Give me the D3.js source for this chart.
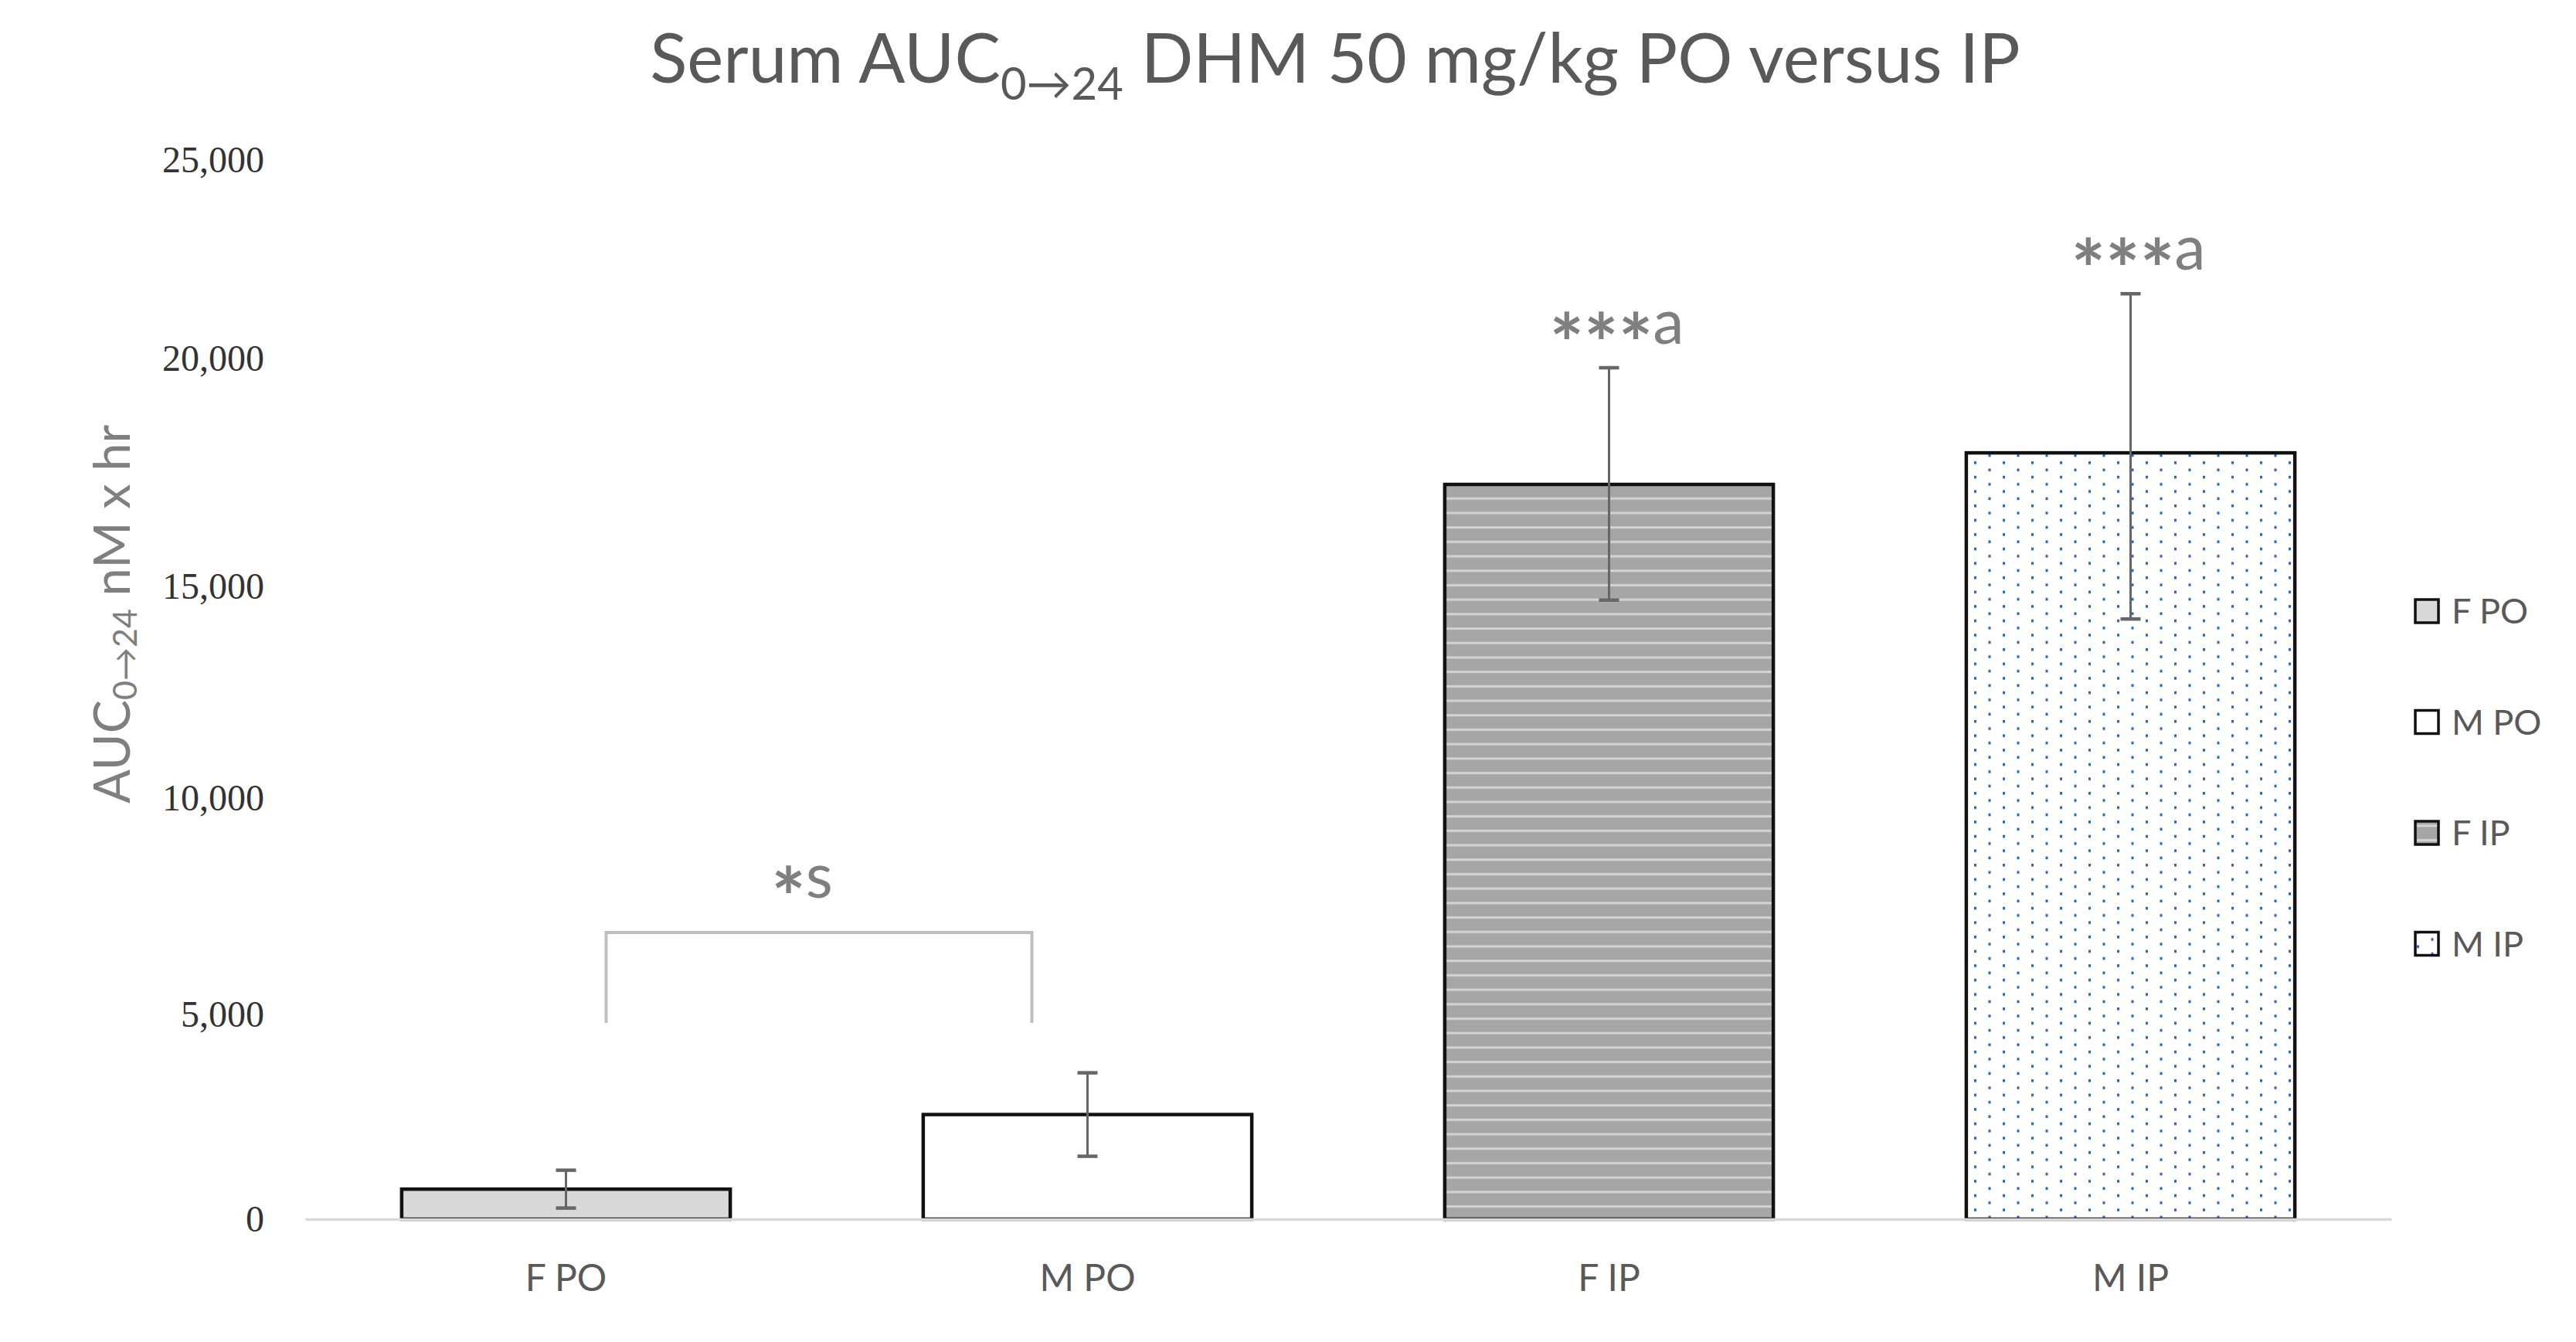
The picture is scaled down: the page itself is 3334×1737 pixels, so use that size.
<!DOCTYPE html>
<html>
<head>
<meta charset="utf-8">
<script src="https://cdn.jsdelivr.net/npm/d3@7"></script>
<style>
	body { margin: 0; background: #fff; }
	text { font-family: Lato, "Open Sans", sans-serif; }
</style>
</head>
<body>
<div id="chart"></div>
<script>
// values (nM x hr)
var groups = ["F PO", "M PO", "F IP", "M IP"];
var auc = [733, 2555, 17237, 17930];
var sem = [462, 1019, 2560, 3700];
var marks = ["", "", "***a", "***a"];
var yTicks = [0, 5000, 10000, 15000, 20000, 25000];
var pairs = [["F PO", "M PO", "*s"]];

var drawChart = function() {
	var width = 3334,
		height = 1737,
		fills = ["#d9d9d9", "#ffffff", "url(#stripes)", "url(#dots)"],
		grey = "#595959",
		i;

	var svg = d3.select("#chart")
		.append("svg")
		.attr("width", width)
		.attr("height", height)
		.style("background", "#fff");

	var defs = svg.append("defs");

	var stripes = defs.append("pattern")
		.attr("id", "stripes")
		.attr("patternUnits", "userSpaceOnUse")
		.attr("width", 20)
		.attr("height", 18.7);
	stripes.append("rect").attr("width", 20).attr("height", 18.7).attr("fill", "#a6a6a6");
	stripes.append("rect").attr("y", 8).attr("width", 20).attr("height", 3).attr("fill", "#d4d4d4");

	var dots = defs.append("pattern")
		.attr("id", "dots")
		.attr("patternUnits", "userSpaceOnUse")
		.attr("width", 37)
		.attr("height", 18.6);
	dots.append("rect").attr("width", 37).attr("height", 18.6).attr("fill", "#fff");
	dots.append("rect").attr("x", 2).attr("y", 2).attr("width", 3).attr("height", 3.5).attr("fill", "#1f63c9");
	dots.append("rect").attr("x", 20.5).attr("y", 11.3).attr("width", 3).attr("height", 3.5).attr("fill", "#1f63c9");

	var x = d3.scaleBand()
		.domain(groups)
		.range([395, 3095])
		.paddingInner(0.37)
		.paddingOuter(0.185);

	// the value axis in the source picture is slightly uneven, so map each tick
	var y = d3.scaleLinear()
		.domain(yTicks)
		.range([1578, 1313, 1033, 759, 464, 207]);

	var bw = x.bandwidth();
	var cx = function(g) { return x(g) + bw / 2; };

	var data = groups.map(function(g, k) {
		return { name: g, value: auc[k], err: sem[k], mark: marks[k], fill: fills[k] };
	});

	// title
	var title = svg.append("text")
		.attr("x", 1728)
		.attr("y", 107)
		.attr("text-anchor", "middle")
		.attr("fill", grey)
		.style("font-size", "89px");
	title.append("tspan").text("Serum AUC");
	title.append("tspan").attr("dy", 22).style("font-size", "58px").text("0\u219224");
	title.append("tspan").attr("dy", -22).text(" DHM 50 mg/kg PO versus IP");

	// y axis title
	var ytitle = svg.append("text")
		.attr("transform", "translate(168,795) rotate(-90)")
		.attr("text-anchor", "middle")
		.attr("fill", "#7f7f7f")
		.style("font-size", "65px");
	ytitle.append("tspan").text("AUC");
	ytitle.append("tspan").attr("dy", 9).style("font-size", "43px").text("0\u219224");
	ytitle.append("tspan").attr("dy", -9).text(" nM x hr");

	// y axis labels only
	var yAxis = svg.append("g")
		.attr("transform", "translate(342,0)")
		.call(d3.axisLeft(y)
			.tickValues(yTicks)
			.tickFormat(d3.format(","))
			.tickSize(0)
			.tickPadding(0));
	yAxis.select(".domain").remove();
	yAxis.selectAll("text")
		.attr("fill", "#333")
		.style("font-family", "'Liberation Serif', serif")
		.style("font-size", "48px");

	// bars
	svg.append("g")
		.selectAll("rect")
		.data(data)
		.join("rect")
		.attr("x", function(d) { return x(d.name); })
		.attr("y", function(d) { return y(d.value); })
		.attr("width", bw)
		.attr("height", function(d) { return y(0) - y(d.value); })
		.attr("fill", function(d) { return d.fill; })
		.attr("stroke", "#111")
		.attr("stroke-width", 4.5);

	// x axis
	var xAxis = svg.append("g")
		.attr("transform", "translate(0," + y(0) + ")")
		.call(d3.axisBottom(x)
			.tickSize(0)
			.tickSizeOuter(0)
			.tickPadding(59));
	xAxis.select(".domain")
		.attr("stroke", "#d9d9d9")
		.attr("stroke-width", 3.5);
	xAxis.selectAll("text")
		.attr("fill", grey)
		.style("font-family", "Lato, 'Open Sans', sans-serif")
		.style("font-size", "48px");

	// error bars
	var eb = svg.append("g")
		.attr("stroke", "#666")
		.selectAll("g")
		.data(data)
		.join("g");
	eb.append("line")
		.attr("x1", function(d) { return cx(d.name); })
		.attr("x2", function(d) { return cx(d.name); })
		.attr("y1", function(d) { return y(d.value + d.err); })
		.attr("y2", function(d) { return y(d.value - d.err); })
		.attr("stroke-width", 3);
	[1, -1].forEach(function(s) {
		eb.append("line")
			.attr("x1", function(d) { return cx(d.name) - 13; })
			.attr("x2", function(d) { return cx(d.name) + 13; })
			.attr("y1", function(d) { return y(d.value + s * d.err); })
			.attr("y2", function(d) { return y(d.value + s * d.err); })
			.attr("stroke-width", 4.5);
	});

	// significance labels: big lowered stars then a letter
	function markText(sel, str) {
		var stars = str.replace(/[^*]/g, ""),
			rest = str.replace(/\*/g, "");
		sel.append("tspan")
			.attr("dy", 38)
			.style("font-size", "105px")
			.style("font-weight", "bold")
			.text(stars);
		sel.append("tspan").attr("dy", -38).style("font-size", "81px").text(rest);
	}

	svg.append("g")
		.selectAll("text")
		.data(data.filter(function(d) { return d.mark; }))
		.join("text")
		.attr("x", function(d) { return cx(d.name) + 10; })
		.attr("y", function(d) { return y(d.value + d.err) - 31; })
		.attr("text-anchor", "middle")
		.attr("fill", "#7f7f7f")
		.each(function(d) { markText(d3.select(this), d.mark); });

	// bracket between PO groups
	for (i = 0; i < pairs.length; i++) {
		var xa = cx(pairs[i][0]) + 52,
			xb = cx(pairs[i][1]) - 72,
			top = y(6893),
			leg = y(4792);
		svg.append("path")
			.attr("d", "M" + xa + "," + leg + "V" + top + "H" + xb + "V" + leg)
			.attr("fill", "none")
			.attr("stroke", "#bfbfbf")
			.attr("stroke-width", 4);
		var bt = svg.append("text")
			.attr("x", (xa + xb) / 2 - 22)
			.attr("y", top - 45)
			.attr("text-anchor", "middle")
			.attr("fill", "#7f7f7f");
		markText(bt, pairs[i][2]);
	}

	// legend
	var lg = svg.append("g")
		.selectAll("g")
		.data(data)
		.join("g")
		.attr("transform", function(d, k) { return "translate(3126," + (791 + k * 143.5) + ")"; });
	lg.append("rect")
		.attr("x", 0)
		.attr("y", -15)
		.attr("width", 30)
		.attr("height", 30)
		.attr("fill", function(d) { return d.fill; })
		.attr("stroke", "#111")
		.attr("stroke-width", 3.5);
	lg.append("text")
		.attr("x", 47)
		.attr("dy", "0.36em")
		.attr("fill", grey)
		.style("font-size", "45px")
		.text(function(d) { return d.name; });
};

drawChart();
</script>
</body>
</html>
